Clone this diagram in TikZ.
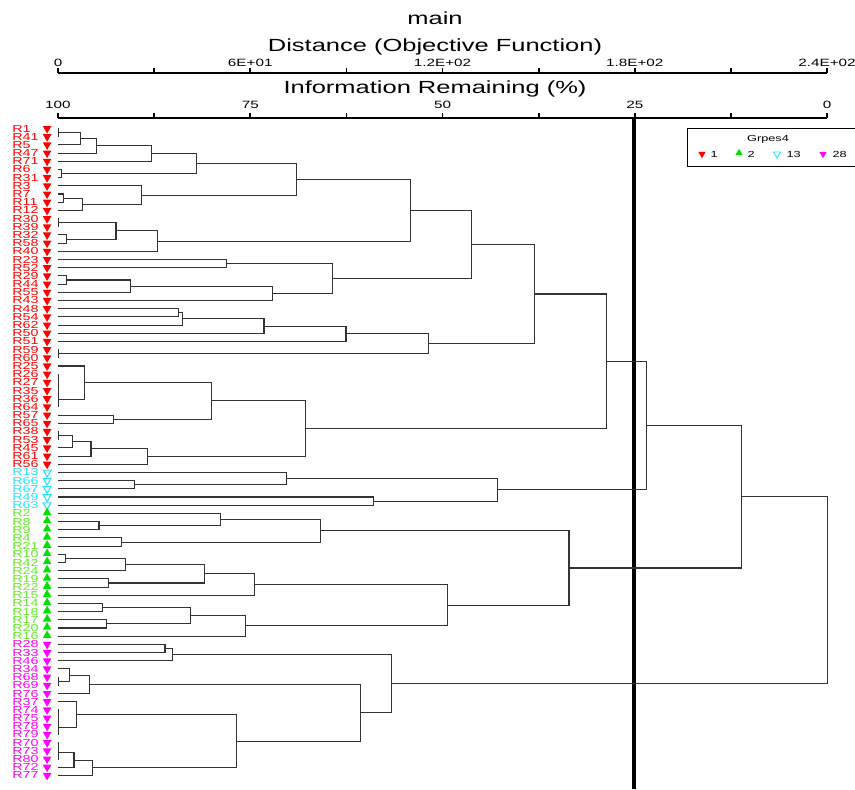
\documentclass[tikz,border=0pt]{standalone}
\usepackage{fontspec}
\setmainfont{Liberation Sans}
\usepackage{tikz}
\usetikzlibrary{calc,shapes.geometric}
\definecolor{gred}{RGB}{255,0,0}
\definecolor{gcyan}{RGB}{40,225,250}
\definecolor{ggreen}{RGB}{0,225,0}
\definecolor{glime}{RGB}{95,235,35}
\definecolor{gmag}{RGB}{255,0,255}
\tikzstyle{br}=[draw=black!80,line width=0.6pt]
\tikzstyle{axis}=[line width=1pt]
\tikzstyle{head}=[inner sep=0pt,xscale=1.45,font=\fontsize{10}{12}\selectfont]
\tikzstyle{ticklbl}=[inner sep=0pt,xscale=1.45,font=\fontsize{6}{7}\selectfont]
\tikzstyle{lbl}=[anchor=west,inner sep=0pt,xscale=1.4,font=\fontsize{5.8}{6}\selectfont]
\tikzstyle{lgd}=[inner sep=0pt,xscale=1.45,font=\fontsize{5}{6}\selectfont]
\tikzstyle{dnmk}=[regular polygon,regular polygon sides=3,shape border rotate=180,minimum size=0.2cm,inner sep=0pt]
\tikzstyle{upmk}=[regular polygon,regular polygon sides=3,minimum size=0.2cm,inner sep=0pt]

\begin{document}
\begin{tikzpicture}[x=0.02cm,y=-0.02cm]
\useasboundingbox (0,0) rectangle (855,789);
\node[head] (title) at (435,18) {main};
\node[head] (dist) at (435,47) {Distance (Objective Function)};
\node[head] (info) at (435,89) {Information Remaining (\%)};

\draw[axis] (58,73) -- (827,73);
\draw[axis] (58,118) -- (827,118);
\foreach \k in {0,...,8} {
  \draw[axis] (58+96.125*\k,73) -- ++(0,-5);
  \draw[axis] (58+96.125*\k,118) -- ++(0,-5);
}
\foreach \k/\v in {0/0,2/6E+01,4/1.2E+02,6/1.8E+02,8/2.4E+02}
  \node[ticklbl] (dl\k) at (58+96.125*\k,63) {\v};
\foreach \k/\v in {0/100,2/75,4/50,6/25,8/0}
  \node[ticklbl] (il\k) at (58+96.125*\k,105) {\v};
\draw[line width=1.8pt] (634,118) -- (634,789);

% legend
\draw[line width=0.5pt] (687,128) rectangle (866,166);
\node[lgd] (lgdt) at (768,139) {Grpes4};
\node[dnmk,fill=gred,minimum size=0.17cm] (k1) at (702,154) {};
\node[lgd,anchor=west] (t1) at (710,154) {1};
\node[upmk,fill=ggreen,minimum size=0.17cm] (k2) at (739,153) {};
\node[lgd,anchor=west] (t2) at (747,154) {2};
\node[dnmk,draw=gcyan,fill=white,line width=0.5pt,minimum size=0.16cm] (k3) at (777,154) {};
\node[lgd,anchor=west] (t3) at (786,154) {13};
\node[dnmk,fill=gmag,minimum size=0.17cm] (k4) at (823,154) {};
\node[lgd,anchor=west] (t4) at (832,154) {28};

\begin{scope}[shift={(58,128.5)},x=0.06408cm,y=-0.1638cm]
\foreach \n [count=\i from 0] in {R1,R41,R5,R47,R71,R6,R31,R3,R7,R11,R12,R30,R39,R32,R58,R40,R23,R52,R29,R44,R55,R43,R48,R54,R62,R50,R51,R59,R60,R25,R26,R27,R35,R36,R64,R57,R65,R38,R53,R45,R61,R56} {
  \coordinate (\n) at (0,\i);
  \node[dnmk,fill=gred] (m\n) at (-3.4,\i) {};
  \node[lbl,text=gred] (l\n) at (-14.4,\i) {\n};
}
\foreach \n [count=\i from 42] in {R13,R66,R67,R49,R63} {
  \coordinate (\n) at (0,\i);
  \node[dnmk,draw=gcyan,fill=white,line width=0.6pt,minimum size=0.18cm] (m\n) at (-3.4,\i) {};
  \node[lbl,text=gcyan] (l\n) at (-14.4,\i) {\n};
}
\foreach \n [count=\i from 47] in {R2,R8,R9,R4,R21,R10,R42,R24,R19,R22,R15,R14,R18,R17,R20,R16} {
  \coordinate (\n) at (0,\i);
  \node[upmk,fill=ggreen] (m\n) at (-3.4,\i-0.1) {};
  \node[lbl,text=glime] (l\n) at (-14.4,\i) {\n};
}
\foreach \n [count=\i from 63] in {R28,R33,R46,R34,R68,R69,R76,R37,R74,R75,R78,R79,R70,R73,R80,R72,R77} {
  \coordinate (\n) at (0,\i);
  \node[dnmk,fill=gmag] (m\n) at (-3.4,\i) {};
  \node[lbl,text=gmag] (l\n) at (-14.4,\i) {\n};
}

\def\mrg#1#2#3#4{\coordinate (t) at ($(#2)!.5!(#3)$);
  \coordinate (#1) at (#4,0 |- t);
  \draw[br] (#2) -| (#1) |- (#3);}

\mrg{a1}{R1}{R41}{0.3}   \mrg{a2}{a1}{R5}{6.9}
\mrg{a3}{a2}{R47}{11.9}  \mrg{a4}{a3}{R71}{29.3}
\mrg{a5}{R6}{R31}{1.2}   \mrg{a6}{a4}{a5}{43.1}
\mrg{a7}{R7}{R11}{1.6}   \mrg{a8}{a7}{R12}{7.5}
\mrg{a9}{R3}{a8}{26.2}   \mrg{a10}{a6}{a9}{74.3}
\mrg{a11}{R30}{R39}{0.2} \mrg{a12}{R32}{R58}{2.8}
\mrg{a13}{a11}{a12}{18.1} \mrg{a14}{a13}{R40}{31.2}
\mrg{a15}{a10}{a14}{109.9}
\mrg{b1}{R23}{R52}{52.7} \mrg{b2}{R29}{R44}{2.8}
\mrg{b3}{b2}{R55}{22.5}  \mrg{b4}{b3}{R43}{67.1}
\mrg{b5}{b1}{b4}{85.8}   \mrg{b6}{a15}{b5}{129.2}
\mrg{b7}{R48}{R54}{37.5} \mrg{b8}{b7}{R62}{39.0}
\mrg{b9}{b8}{R50}{64.3}  \mrg{b10}{b9}{R51}{89.9}
\mrg{b11}{R59}{R60}{0.2} \mrg{b12}{b10}{b11}{115.5}
\mrg{b13}{b6}{b12}{148.6}
\mrg{c1}{R26}{R27}{0.1}  \mrg{c2}{c1}{R35}{0.1}
\mrg{c3}{c2}{R36}{0.1}   \mrg{c4}{c3}{R64}{0.1}
\mrg{c5}{R25}{c4}{8.4}   \mrg{c6}{R57}{R65}{17.2}
\mrg{c7}{c5}{c6}{47.8}
\mrg{c8}{R38}{R53}{0.2}  \mrg{c9}{c8}{R45}{4.4}
\mrg{c10}{c9}{R61}{10.3} \mrg{c11}{c10}{R56}{27.8}
\mrg{c12}{c7}{c11}{77.4} \mrg{c13}{b13}{c12}{171.3}
\mrg{d1}{R66}{R67}{24.0} \mrg{d2}{R13}{d1}{71.2}
\mrg{d3}{R49}{R63}{98.6} \mrg{d4}{d2}{d3}{137.3}
\mrg{d5}{c13}{d4}{183.8}
\mrg{e1}{R8}{R9}{12.8}   \mrg{e2}{R2}{e1}{50.6}
\mrg{e3}{R4}{R21}{19.7}  \mrg{e4}{e2}{e3}{81.8}
\mrg{e5}{R10}{R42}{2.2}  \mrg{e6}{e5}{R24}{21.2}
\mrg{e7}{R19}{R22}{15.9} \mrg{e8}{e6}{e7}{45.6}
\mrg{e9}{e8}{R15}{61.2}
\mrg{e10}{R14}{R18}{14.0} \mrg{e11}{R17}{R20}{15.0}
\mrg{e12}{e10}{e11}{41.5} \mrg{e13}{e12}{R16}{58.4}
\mrg{e14}{e9}{e13}{121.7} \mrg{e15}{e4}{e14}{159.5}
\mrg{f1}{R28}{R33}{33.4} \mrg{f2}{f1}{R46}{35.6}
\mrg{f3}{R68}{R69}{0.2}  \mrg{f4}{R34}{f3}{3.7}
\mrg{f5}{f4}{R76}{9.7}
\mrg{f6}{R74}{R75}{0.1}  \mrg{f7}{f6}{R78}{0.1}
\mrg{f8}{f7}{R79}{0.1}   \mrg{f9}{R37}{f8}{5.9}
\mrg{f10}{R70}{R73}{0.1} \mrg{f11}{f10}{R80}{0.1}
\mrg{f12}{f11}{R72}{5.0} \mrg{f13}{f12}{R77}{10.9}
\mrg{f14}{f9}{f13}{55.6} \mrg{f15}{f5}{f14}{94.3}
\mrg{f16}{f2}{f15}{104.2}
\mrg{g1}{d5}{e15}{213.2} \mrg{g2}{g1}{f16}{240.3}
\end{scope}
\end{tikzpicture}
\end{document}
